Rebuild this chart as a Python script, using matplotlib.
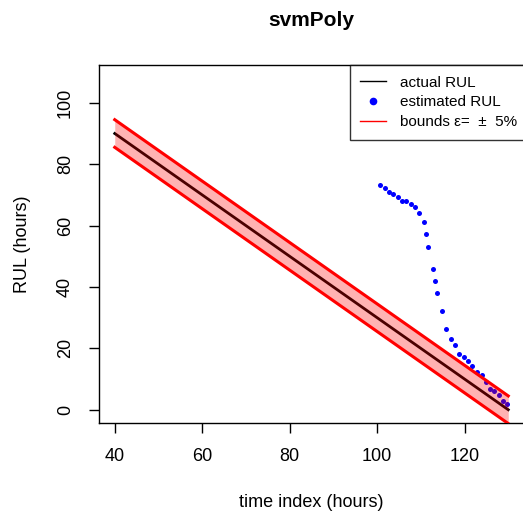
import numpy as np
import matplotlib
matplotlib.use("Agg")
import matplotlib.pyplot as plt
from matplotlib.lines import Line2D

plt.rcParams['font.family'] = ['Liberation Sans', 'DejaVu Sans']

# data
time_actual = [40, 130]
rul_actual = [90, 0]
eps = 4.5  # 5% of 90

est_time = [100.6, 101.7, 102.7, 103.7, 104.7, 105.7, 106.7, 107.7, 108.7, 109.7,
            110.7, 111.3, 111.7, 112.8, 113.3, 113.7, 114.8, 115.8, 116.8, 117.9,
            118.8, 119.8, 120.9, 121.8, 122.9, 123.9, 124.8, 125.8, 126.8, 127.8,
            128.8, 129.8]
est_rul = [73.1, 72.1, 71.1, 70.2, 69.2, 67.9, 67.9, 66.9, 66.0, 64.0,
           61.1, 57.1, 52.9, 46.0, 42.1, 37.9, 32.1, 26.2, 22.9, 21.0,
           18.2, 17.1, 16.0, 14.1, 12.3, 11.2, 8.9, 6.9, 6.0, 4.9,
           3.0, 2.0]

xticks = [40, 60, 80, 100, 120]
yticks = [0, 20, 40, 60, 80, 100]

fig = plt.figure(figsize=(5.23, 5.17), dpi=100)
ax = fig.add_axes([99/523, 1-423/517, (524-99)/523, (423-65)/517])

t = np.array(time_actual, dtype=float)
r = np.array(rul_actual, dtype=float)

ax.plot(t, r, color='black', lw=2, zorder=2)
ax.plot(est_time, est_rul, 'o', color='#0000FF', ms=3.6, mec='none', zorder=3)
ax.fill_between(t, r - eps, r + eps, color=(1, 0, 0, 0.3), lw=0, zorder=4)
ax.plot(t, r + eps, color='red', lw=2.2, zorder=5)
ax.plot(t, r - eps, color='red', lw=2.2, zorder=5)

ax.set_xlim(36.4, 133.6)
ax.set_ylim(-4.32, 112.32)
ax.set_xticks(xticks)
ax.set_yticks(yticks)
ax.tick_params(axis='both', direction='out', length=7, width=1, labelsize=13, pad=11, colors='black')
for lab in ax.get_yticklabels():
    lab.set_rotation(90)
    lab.set_va('center')
for s in ax.spines.values():
    s.set_linewidth(1)
    s.set_color('black')

ax.set_xlabel('time index (hours)', fontsize=13, labelpad=21)
ax.set_ylabel('RUL (hours)', fontsize=13, labelpad=19)
fig.text(311/523, 1-21/517, 'svmPoly', ha='center', va='center', fontsize=15, fontweight='bold')

handles = [Line2D([], [], color='black', lw=1),
           Line2D([], [], color='#0000FF', marker='o', ls='none', ms=5.5, mec='none'),
           Line2D([], [], color='red', lw=1)]
labels = ['actual RUL', 'estimated RUL', 'bounds \u03b5=  \u00b1  5%']
leg = ax.legend(handles, labels, loc='upper right', bbox_to_anchor=(1.0094, 1.0),
                fontsize=11, frameon=True, fancybox=False, edgecolor='black',
                borderaxespad=0, handlelength=1.7, labelspacing=0.38,
                borderpad=0.7, handletextpad=0.9)
leg.get_frame().set_linewidth(1)

fig.savefig('out.png', dpi=100)
